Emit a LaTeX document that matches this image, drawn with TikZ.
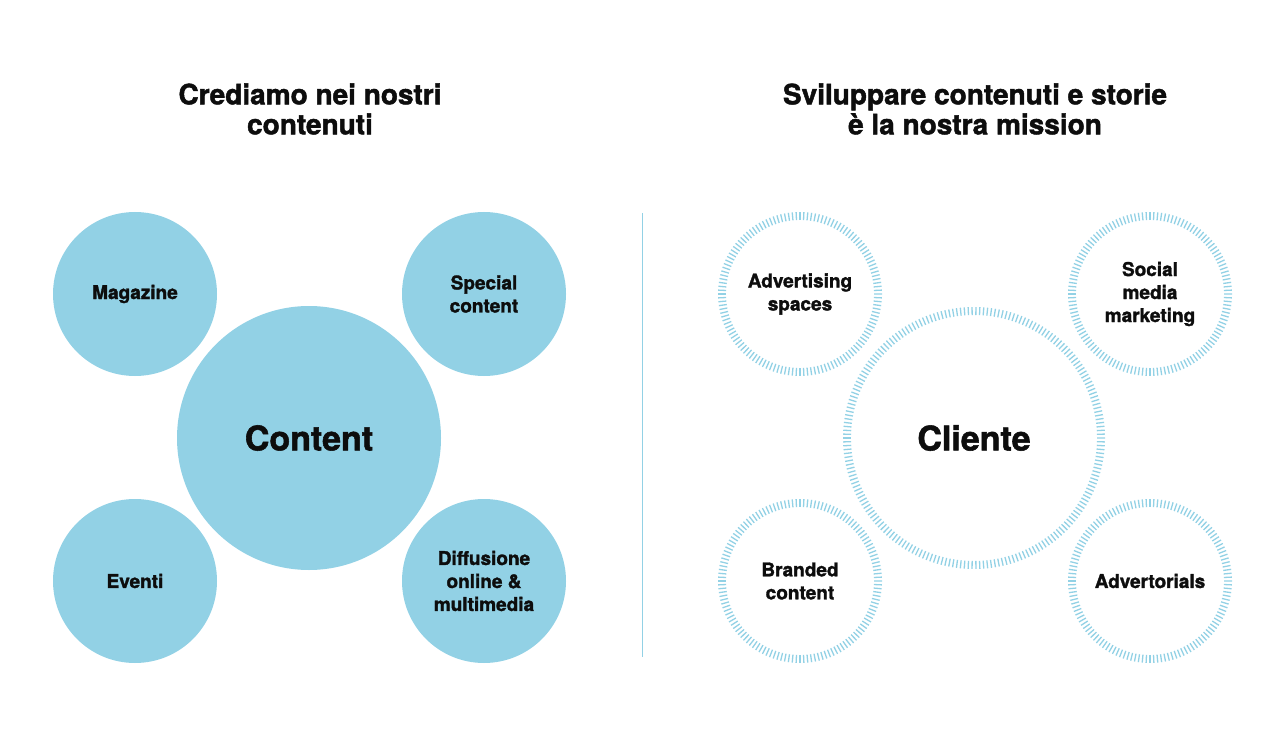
\documentclass[tikz,border=0pt]{standalone}
\usepackage{fontspec}
\setmainfont{TeX Gyre Heros}[BoldFeatures={FakeBold=1.6}]
\definecolor{cblue}{HTML}{92D1E5}
\definecolor{ink}{HTML}{0D0D0D}
\begin{document}
\begin{tikzpicture}[x=1pt,y=-1pt,
  bubble/.style={circle, fill=cblue, inner sep=0pt, minimum size=#1, align=center, text=ink},
  ring/.style={circle, inner sep=0pt, minimum size=#1, align=center, text=ink},
  small/.style={font=\bfseries\fontsize{19}{23}\selectfont},
  big/.style={font=\bfseries\fontsize{34}{40}\selectfont},
  heading/.style={align=center, text=ink, font=\bfseries\fontsize{28}{30}\selectfont},
  tickmark/.style={draw=cblue, line width=1.3pt},
  divider/.style={draw=cblue, line width=1pt}]
\useasboundingbox (0,0) rectangle (1280,738);

% headings
\node[heading] (h1) at (310,109) {Crediamo nei nostri\\contenuti};
\node[heading] (h2) at (975,109) {Sviluppare contenuti e storie\\è la nostra mission};

% left side
\node[bubble=164pt, small] (mag) at (135,294) {Magazine};
\node[bubble=164pt, small] (spc) at (484,294) {Special\\content};
\node[bubble=164pt, small] (eve) at (135,581) {Eventi};
\node[bubble=164pt, small] (dif) at (484,581) {Diffusione\\online \&\\multimedia};
\node[bubble=264pt, big] (con) at (309,438) {Content};

% divider
\coordinate (dtop) at (642,213);
\coordinate (dbot) at (642,657);
\draw[divider] (dtop) -- (dbot);

% right side
\node[ring=164pt, small] (adv) at (800,294) {Advertising\\spaces};
\node[ring=164pt, small] (soc) at (1150,294) {Social\\media\\marketing};
\node[ring=164pt, small] (bra) at (800,581) {Branded\\content};
\node[ring=164pt, small] (avt) at (1150,581) {Advertorials};
\node[ring=262pt, big] (cli) at (974,438) {Cliente};

\foreach \n/\r/\N in {adv/82/132, soc/82/132, bra/82/132, avt/82/132, cli/131/210}{
  \pgfmathsetmacro\step{360/\N}
  \foreach \k in {1,...,\N}{
    \draw[tickmark] (\n.center) ++({\k*\step}:\r) -- ++({\k*\step}:-8);
  }
}
\end{tikzpicture}
\end{document}
